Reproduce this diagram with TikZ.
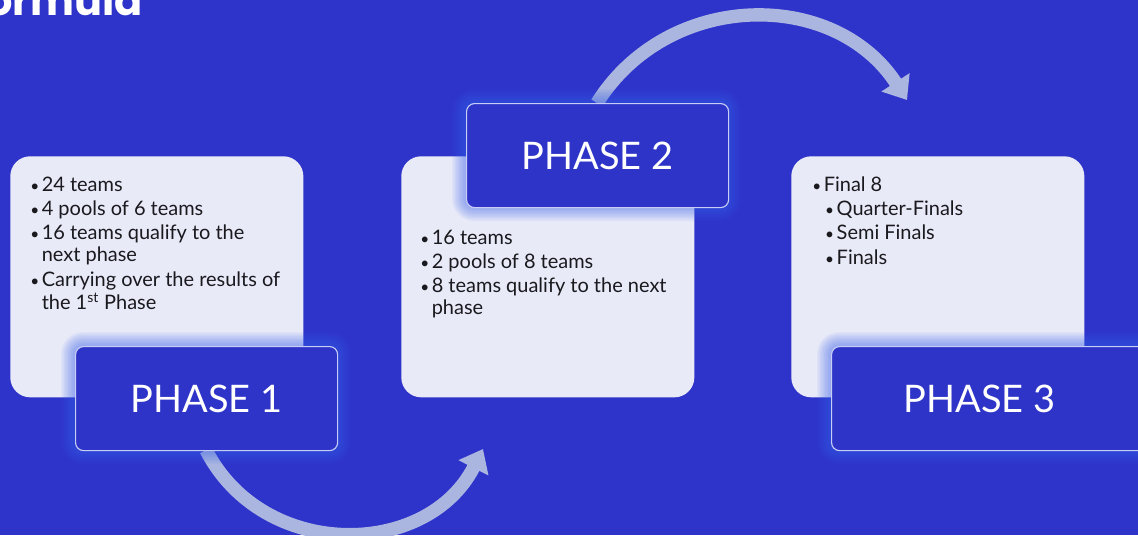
\documentclass[tikz,border=0pt]{standalone}
\usepackage{fontspec}
\setmainfont{Lato}
\newfontfamily\titlefont{Poppins}
\usetikzlibrary{arrows.meta,calc}
\definecolor{bgblue}{RGB}{46,52,201}
\definecolor{lightbox}{RGB}{233,234,248}
\definecolor{darkbox}{RGB}{46,52,200}
\definecolor{boxline}{RGB}{200,205,245}
\definecolor{glowc}{RGB}{60,100,240}
\definecolor{arrowc}{RGB}{170,182,224}
\definecolor{txt}{RGB}{25,25,30}
\tikzset{
  infobox/.style={fill=lightbox, rounded corners=0.5cm, minimum width=7.325cm, minimum height=6.025cm, inner sep=0pt, anchor=north west},
  phasebox/.style={fill=darkbox, draw=boxline, line width=0.8pt, rounded corners=0.2cm, minimum width=6.55cm, minimum height=2.6cm, inner sep=0pt, anchor=north west, text=white, font=\fontsize{27}{30}\selectfont},
  bullets/.style={anchor=base west, inner sep=0pt, text=txt, font=\fontsize{14.2}{15.6}\selectfont},
  flowarrow/.style={draw=arrowc, line width=9.5pt, -{Triangle[length=15pt,width=23pt]}},
}
\newcommand{\glowbox}[4]{%
  \foreach \i in {1,...,10}{%
    \fill[glowc, opacity=0.06, rounded corners=0.2cm+\i*0.035cm]
      (#1-\i*1.4,#2-\i*1.4) rectangle (#3+\i*1.4,#4+\i*1.4);
  }}
\newcommand{\bul}{{\fontsize{11}{12}\selectfont\textbullet}}
\newcommand{\subitm}[1]{\multicolumn{2}{@{}l@{}}{\hspace{9.2pt}\bul\hspace{1.8pt}#1}}
\begin{document}
\begin{tikzpicture}[x=0.025cm,y=-0.025cm]
\useasboundingbox (0,0) rectangle (1138,535);
\clip (0,0) rectangle (1138,535);
\fill[bgblue] (0,0) rectangle (1138,535);
% title (cut off at top)
\node[anchor=base east, inner sep=0pt, text=white, font=\titlefont\bfseries\fontsize{29.5}{32}\selectfont] (title) at (143,15) {Formula};
% info boxes
\node[infobox] (b1) at (10,156) {};
\node[infobox] (b2) at (401,156) {};
\node[infobox] (b3) at (791,156) {};
% arrow anchors
\coordinate (a1) at (483,449);
\coordinate (a2) at (907,100);
\coordinate (s1) at (206,450);
\coordinate (s2) at (597,103);
\draw[flowarrow] (s1) .. controls (263,561) and (427,559) .. (a1);
\draw[flowarrow] (s2) .. controls (668,-10) and (834,-12) .. (a2);
% glows
\glowbox{75}{346}{337}{450}
\glowbox{466}{103}{727}{207}
\glowbox{831}{346}{1145}{450}
% phase boxes
\node[phasebox] (p1) at (75,346) {PHASE 1};
\node[phasebox] (p2) at (466,103) {PHASE 2};
\node[phasebox, minimum width=7.85cm] (p3) at (831,346) {\hspace*{-0.45cm}PHASE 3};
% bullet texts
\node[bullets] (t1) at (30,191) {%
\begin{tabular}[t]{@{}l@{\hspace{1.8pt}}l@{}}
\bul & 24 teams\\[1.8pt]
\bul & 4 pools of 6 teams\\[1.8pt]
\bul & 16 teams qualify to the\\
 & next phase\\[1.8pt]
\bul & Carrying over the results of\\
 & the 1\textsuperscript{st} Phase
\end{tabular}};
\node[bullets] (t2) at (420,244) {%
\begin{tabular}[t]{@{}l@{\hspace{1.8pt}}l@{}}
\bul & 16 teams\\[1.8pt]
\bul & 2 pools of 8 teams\\[1.8pt]
\bul & 8 teams qualify to the next\\
 & phase
\end{tabular}};
\node[bullets] (t3) at (812,191) {%
\begin{tabular}[t]{@{}l@{\hspace{1.8pt}}l@{}}
\bul & Final 8\\[1.8pt]
\subitm{Quarter-Finals}\\[1.8pt]
\subitm{Semi Finals}\\[1.8pt]
\subitm{Finals}
\end{tabular}};
\end{tikzpicture}
\end{document}
